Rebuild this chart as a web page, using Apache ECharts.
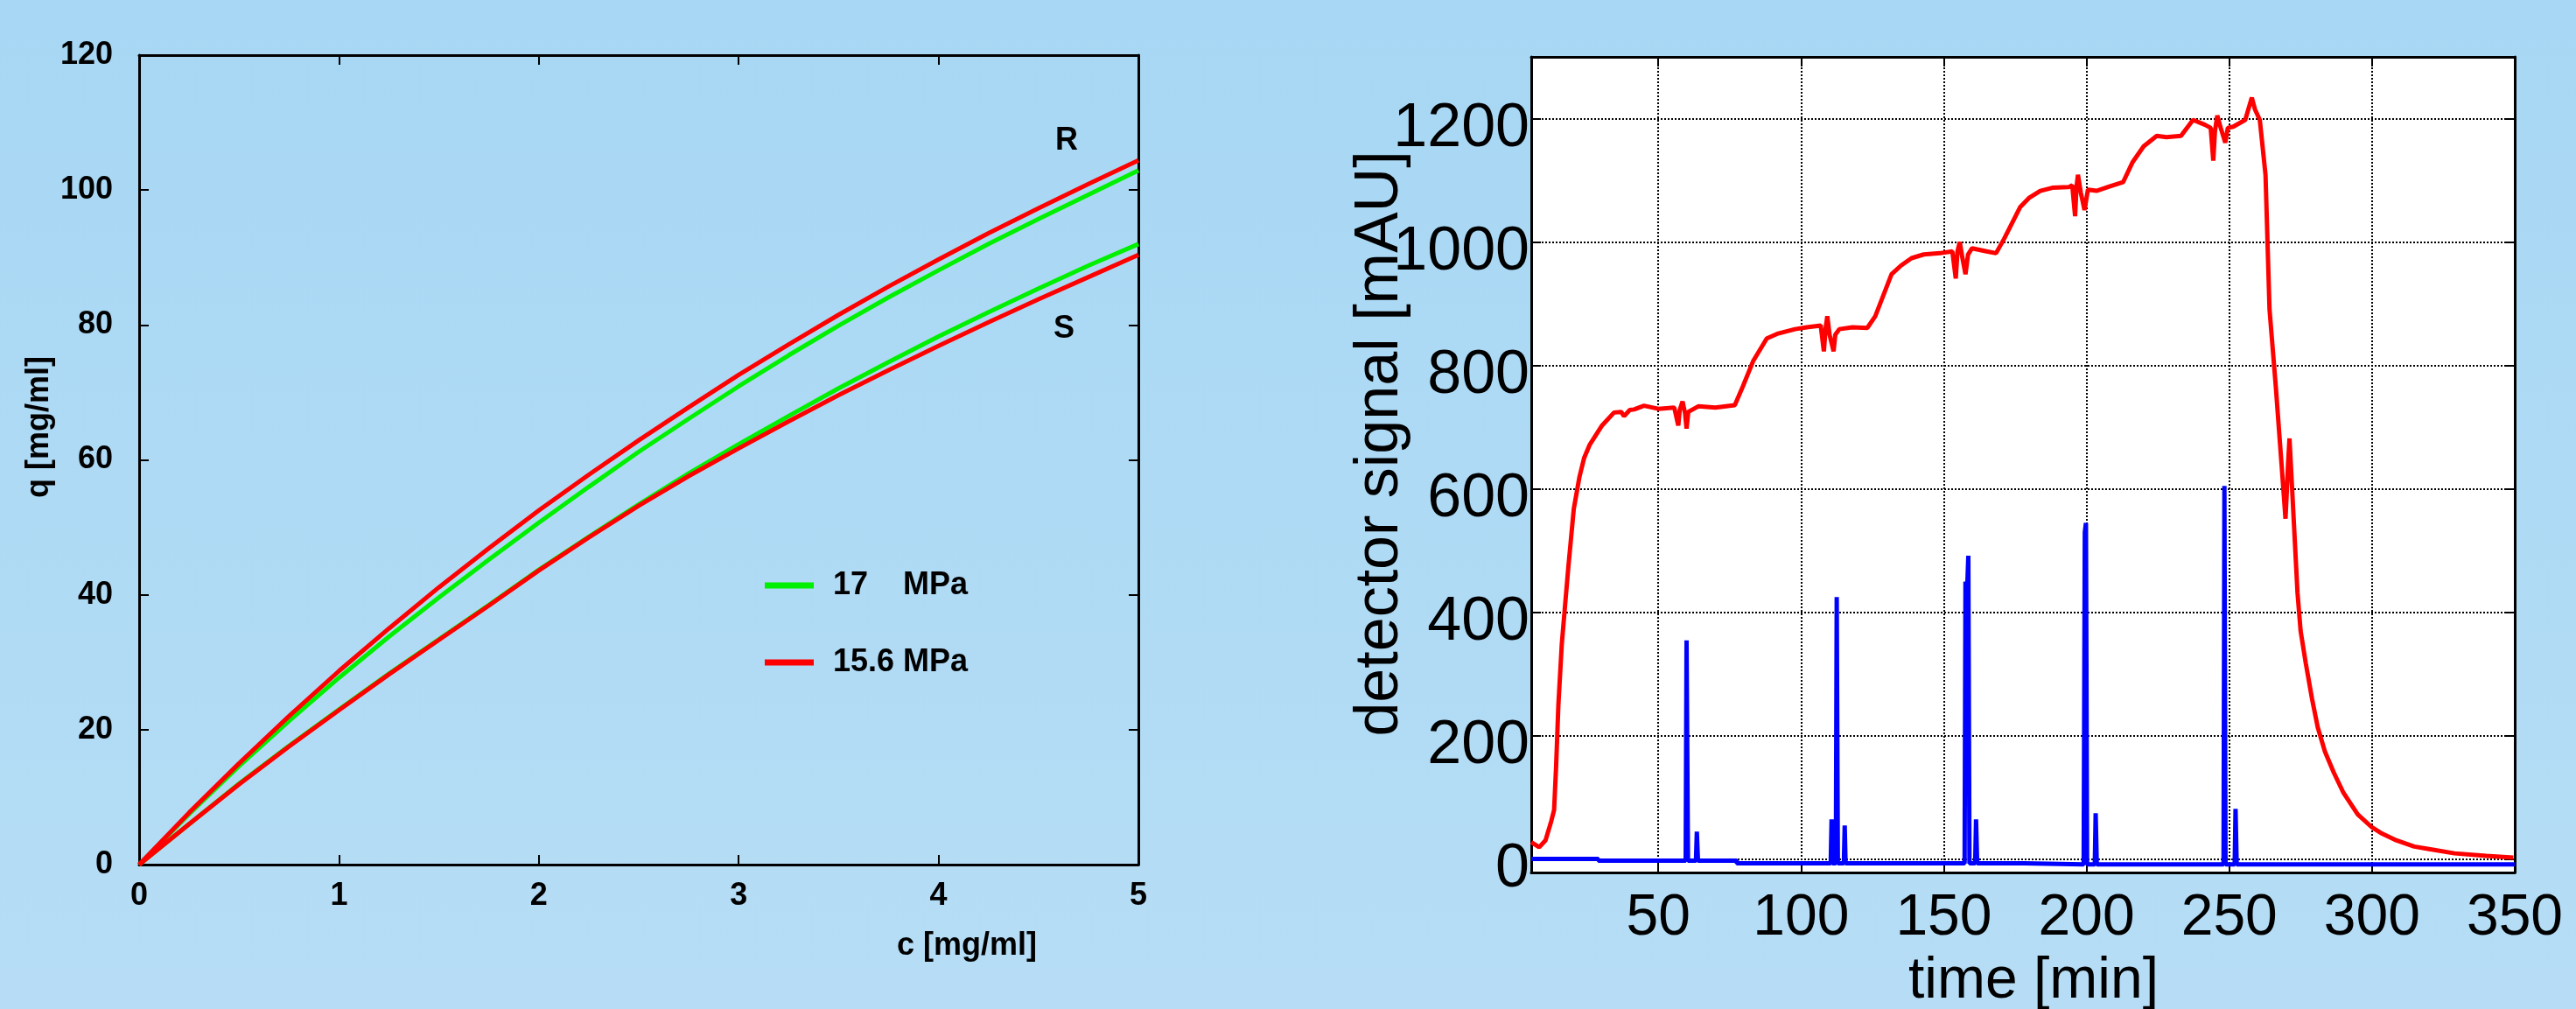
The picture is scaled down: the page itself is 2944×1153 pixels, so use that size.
<!DOCTYPE html>
<html>
<head>
<meta charset="utf-8">
<script src="https://cdn.jsdelivr.net/npm/echarts@6/dist/echarts.min.js"></script>
<style>
  html, body { margin: 0; padding: 0; }
  body { background: linear-gradient(#a7d7f4, #b6ddf5); }
  #chart { width: 2944px; height: 1153px; }
</style>
</head>
<body>
<div id="chart"></div>
<script>
// left panel: isotherms q(c)
const conc = [0, 0.25, 0.5, 0.75, 1, 1.25, 1.5, 1.75, 2, 2.25, 2.5, 2.75, 3, 3.25, 3.5, 3.75, 4, 4.25, 4.5, 4.75, 5];
const qR156 = [0, 7.7, 15.0, 22.0, 28.7, 35.0, 41.1, 46.9, 52.5, 57.8, 62.9, 67.8, 72.6, 77.1, 81.5, 85.7, 89.7, 93.6, 97.3, 100.9, 104.4];
const qR17 = [0, 7.5, 14.6, 21.3, 27.7, 33.8, 39.6, 45.2, 50.7, 56.0, 61.2, 66.1, 70.9, 75.5, 79.9, 84.1, 88.1, 92.0, 95.7, 99.3, 102.9];
const qS17 = [0, 6.0, 12.0, 17.6, 23.0, 28.3, 33.4, 38.5, 43.7, 48.6, 53.4, 58.0, 62.3, 66.5, 70.6, 74.5, 78.3, 81.9, 85.4, 88.8, 92.0];
const qS156 = [0, 6.0, 11.9, 17.5, 22.9, 28.2, 33.3, 38.4, 43.6, 48.5, 53.2, 57.6, 61.7, 65.7, 69.6, 73.3, 76.9, 80.4, 83.8, 87.1, 90.4];
const name17 = "17    MPa";
const name156 = "15.6 MPa";

// right panel: detector signal vs time
const redTime = [5.5, 8.3, 10.5, 12.5, 13.5, 14.2, 15, 16.2, 17.5, 18.5, 20.4, 22.4, 24, 26, 30.3, 34.5, 37, 38, 40, 41.5, 45, 50,
  55.6, 57, 57.5, 58.5, 59.4, 59.9, 60.5, 64, 70, 76.8, 79.6, 83.2, 88, 92, 97.9, 102, 106.9, 108, 108.6, 109.2, 110, 111.4, 112,
  113.4, 118, 123.2, 126, 131.7, 135, 138.7, 143, 148.6, 153, 154.2, 154.8, 155.6, 156.5, 157.6, 158.5, 159.9, 165, 168.3, 171.1,
  176.8, 180, 183.8, 188, 193.7, 195, 196, 196.5, 197, 198, 199.3, 200.5, 203.5, 208, 212.8, 216.2, 220, 224.6, 228, 233.1, 237.3,
  241.5, 243.5, 244.4, 245, 245.8, 247, 248.6, 249.5, 251.4, 255.6, 257.9, 259, 260.7, 262.7, 264.1, 266.3, 268.3, 269.7, 270.2,
  270.6, 271.1, 271.8, 272.5, 273.9, 275, 276.8, 279, 281, 283.5, 286.6, 290, 295, 300, 303.5, 308, 314.8, 320, 328.9, 340, 349.5];
const redSignal = [28, 20, 31, 62, 80, 150, 250, 349, 420, 474, 568, 620, 650, 672, 703, 724, 725, 718, 728, 729, 735, 730,
  732, 703, 728, 742, 722, 698, 725, 734, 732, 736, 766, 807, 844, 852, 859, 862, 865, 823, 860, 880, 850, 823, 850,
  859, 862, 861, 880, 948, 962, 974, 980, 982, 985, 941, 985, 1000, 975, 948, 980, 990, 985, 982, 1005,
  1057, 1072, 1083, 1088, 1089, 1092, 1042, 1090, 1109, 1080, 1052, 1085, 1083, 1090, 1097, 1130, 1155, 1172, 1170, 1172, 1198,
  1190, 1185, 1132, 1180, 1205, 1185, 1161, 1185, 1187, 1198, 1234, 1215, 1198, 1109, 891, 766, 641, 552, 600,
  641, 682, 620, 557, 432, 370, 318, 260, 214, 175, 141, 108, 73, 52, 42, 32, 21, 17, 10, 6, 3];
const blueTime = [5.5, 29, 29, 59.6, 59.9, 60.4, 63.2, 63.5, 63.9, 77.5, 77.5, 110.4, 110.7, 111.0, 112.2, 112.5, 112.9,
  115.0, 115.3, 115.6, 157.3, 157.6, 158.2, 158.6, 159.0, 161.0, 161.3, 161.7, 178, 178, 199.0, 199.4, 199.8, 200.2,
  202.9, 203.2, 203.6, 248.0, 248.3, 248.7, 251.9, 252.2, 252.6, 350];
const blueSignal = [1, 1, -2, -2, 355, -2, -2, 45, -2, -2, -6, -6, 65, -6, -6, 425, -6,
  -6, 55, -6, -6, 450, 440, 492, -6, -6, 65, -6, -6, -8, -8, 530, 545, -8,
  -8, 75, -8, -8, 605, -8, -8, 82, -8, -8];
const timeTicks = [50, 100, 150, 200, 250, 300, 350];
const signalTicks = [0, 200, 400, 600, 800, 1000, 1200];

const FONT = '"Liberation Sans", Arial, sans-serif';
const pairs = (xs, ys) => xs.map((x, i) => [x, ys[i]]);
const plain = v => String(v);

const chart = echarts.init(document.getElementById("chart"));

const boxLine = { show: true, onZero: false, lineStyle: { color: "#000", width: 3 } };
const inTick = { show: true, inside: true, length: 11, lineStyle: { color: "#000", width: 2 } };
const dotted = { show: true, lineStyle: { color: "#000", width: 2, type: "dotted" } };
const leftLabel = { color: "#000", fontFamily: FONT, fontWeight: "bold", fontSize: 36, formatter: plain };

const option = {
  animation: false,
  backgroundColor: "transparent",
  grid: [
    { left: 159, top: 63, width: 1142, height: 925 },
    { left: 1750, top: 65, width: 1124, height: 932, show: true, backgroundColor: "#fff", borderWidth: 0 }
  ],
  legend: {
    orient: "vertical",
    left: 874,
    top: 651,
    padding: 0,
    itemGap: 52,
    itemWidth: 56,
    itemHeight: 7,
    icon: "rect",
    data: [name17, name156],
    textStyle: { color: "#000", fontFamily: FONT, fontWeight: "bold", fontSize: 36, lineHeight: 36, padding: [0, 0, 0, 17] }
  },
  xAxis: [
    {
      type: "value", gridIndex: 0, min: 0, max: 5, interval: 1,
      axisLine: boxLine, axisTick: inTick, splitLine: { show: false },
      axisLabel: Object.assign({ margin: 18 }, leftLabel)
    },
    {
      type: "value", gridIndex: 0, position: "top", min: 0, max: 5, interval: 1,
      axisLine: boxLine, axisTick: inTick, splitLine: { show: false }, axisLabel: { show: false }
    },
    {
      type: "value", gridIndex: 1, min: 5.5, max: 350,
      axisLine: boxLine,
      axisTick: Object.assign({ customValues: timeTicks }, inTick),
      splitLine: dotted,
      axisLabel: { customValues: timeTicks, formatter: plain, color: "#000", fontFamily: FONT, fontSize: 66, margin: 20 }
    },
    {
      type: "value", gridIndex: 1, position: "top", min: 5.5, max: 350,
      axisLine: boxLine,
      axisTick: Object.assign({ customValues: timeTicks }, inTick),
      splitLine: { show: false }, axisLabel: { show: false }
    }
  ],
  yAxis: [
    {
      type: "value", gridIndex: 0, min: 0, max: 120, interval: 20,
      axisLine: boxLine, axisTick: inTick, splitLine: { show: false },
      axisLabel: Object.assign({ margin: 30 }, leftLabel)
    },
    {
      type: "value", gridIndex: 0, position: "right", min: 0, max: 120, interval: 20,
      axisLine: boxLine, axisTick: inTick, splitLine: { show: false }, axisLabel: { show: false }
    },
    {
      type: "value", gridIndex: 1, min: -21, max: 1300,
      axisLine: boxLine,
      axisTick: Object.assign({ customValues: signalTicks }, inTick),
      splitLine: dotted,
      axisLabel: { customValues: signalTicks, formatter: plain, color: "#000", fontFamily: FONT, fontSize: 70, margin: 2, verticalAlign: "top", lineHeight: 24 }
    },
    {
      type: "value", gridIndex: 1, position: "right", min: -21, max: 1300,
      axisLine: boxLine,
      axisTick: Object.assign({ customValues: signalTicks }, inTick),
      splitLine: { show: false }, axisLabel: { show: false }
    }
  ],
  series: [
    { name: name17, type: "line", xAxisIndex: 0, yAxisIndex: 0, data: pairs(conc, qR17), showSymbol: false, color: "#00f000", lineStyle: { width: 5 } },
    { name: name17, type: "line", xAxisIndex: 0, yAxisIndex: 0, data: pairs(conc, qS17), showSymbol: false, color: "#00f000", lineStyle: { width: 5 } },
    { name: name156, type: "line", xAxisIndex: 0, yAxisIndex: 0, data: pairs(conc, qR156), showSymbol: false, color: "#ff0000", lineStyle: { width: 5 } },
    { name: name156, type: "line", xAxisIndex: 0, yAxisIndex: 0, data: pairs(conc, qS156), showSymbol: false, color: "#ff0000", lineStyle: { width: 5 } },
    { name: "signal", type: "line", xAxisIndex: 2, yAxisIndex: 2, data: pairs(redTime, redSignal), showSymbol: false, color: "#ff0000", lineStyle: { width: 5 } },
    { name: "marker", type: "line", xAxisIndex: 2, yAxisIndex: 2, data: pairs(blueTime, blueSignal), showSymbol: false, color: "#0000ff", lineStyle: { width: 5 } }
  ],
  graphic: [
    { type: "text", x: 1219, y: 161, style: { text: "R", font: "bold 36px " + FONT, fill: "#000", align: "center", verticalAlign: "middle" } },
    { type: "text", x: 1216, y: 376, style: { text: "S", font: "bold 36px " + FONT, fill: "#000", align: "center", verticalAlign: "middle" } },
    { type: "text", x: 1105, y: 1081, style: { text: "c [mg/ml]", font: "bold 36px " + FONT, fill: "#000", align: "center", verticalAlign: "middle" } },
    { type: "text", x: 45, y: 488, rotation: Math.PI / 2, style: { text: "q [mg/ml]", font: "bold 36px " + FONT, fill: "#000", align: "center", verticalAlign: "middle" } },
    { type: "text", x: 2324, y: 1122, style: { text: "time [min]", font: "66px " + FONT, fill: "#000", align: "center", verticalAlign: "middle" } },
    { type: "text", x: 1578, y: 507, rotation: Math.PI / 2, style: { text: "detector signal [mAU]", font: "70px " + FONT, fill: "#000", align: "center", verticalAlign: "middle" } }
  ]
};

chart.setOption(option);
</script>
</body>
</html>
